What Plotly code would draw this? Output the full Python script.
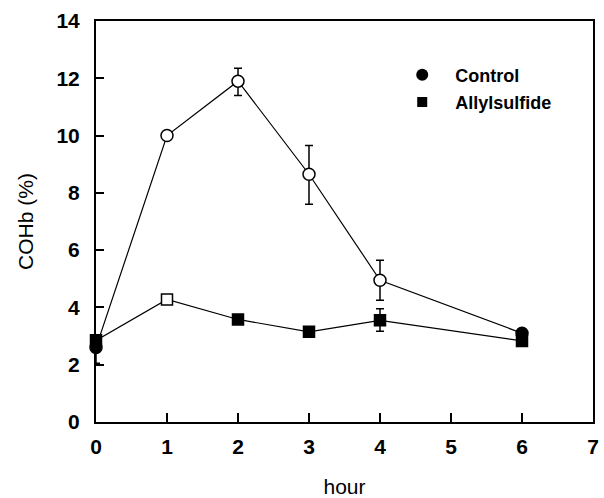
import plotly.graph_objects as go

hours = [0, 1, 2, 3, 4, 6]
control = [2.6, 10.0, 11.9, 8.65, 4.95, 3.1]
control_err_plus = [0.3, 0.0, 0.45, 1.0, 0.7, 0.0]
control_err_minus = [0.55, 0.0, 0.5, 1.05, 0.7, 0.0]
control_open = [False, True, True, True, True, False]

allyl = [2.85, 4.28, 3.58, 3.15, 3.55, 2.83]
allyl_err_plus = [0.15, 0.1, 0.0, 0.0, 0.4, 0.0]
allyl_err_minus = [0.15, 0.1, 0.0, 0.0, 0.38, 0.0]
allyl_open = [False, True, False, False, False, False]

FONT = "Liberation Sans, Arial, sans-serif"

def fills(open_flags):
    return ["white" if o else "black" for o in open_flags]

fig = go.Figure()

fig.add_trace(go.Scatter(
    x=hours, y=allyl, mode="lines+markers", showlegend=False,
    line=dict(color="black", width=1.2),
    marker=dict(symbol="square", size=11, color=fills(allyl_open),
                line=dict(color="black", width=1.5)),
    error_y=dict(type="data", array=allyl_err_plus, arrayminus=allyl_err_minus,
                 color="black", thickness=1.5, width=4),
    cliponaxis=False,
))
fig.add_trace(go.Scatter(
    x=hours, y=control, mode="lines+markers", showlegend=False,
    line=dict(color="black", width=1.2),
    marker=dict(symbol="circle", size=12, color=fills(control_open),
                line=dict(color="black", width=1.5)),
    error_y=dict(type="data", array=control_err_plus, arrayminus=control_err_minus,
                 color="black", thickness=1.5, width=4),
    cliponaxis=False,
))

# legend entries
fig.add_trace(go.Scatter(x=[None], y=[None], mode="markers", name="Control",
                         legendgroup="a",
                         marker=dict(symbol="circle", size=12, color="black")))
fig.add_trace(go.Scatter(x=[None], y=[None], mode="markers", name="Allylsulfide",
                         legendgroup="b",
                         marker=dict(symbol="square", size=10, color="black")))

fig.update_layout(
    width=604, height=498,
    margin=dict(l=96, r=11, t=21, b=76),
    paper_bgcolor="white", plot_bgcolor="white",
    font=dict(family=FONT, color="black"),
    legend=dict(x=0.590, y=0.9115, xanchor="left", yanchor="top",
                bgcolor="rgba(0,0,0,0)", tracegroupgap=1, itemwidth=56,
                font=dict(size=18, family=FONT, weight="bold")),
    xaxis=dict(range=[0, 7], tickvals=[0, 1, 2, 3, 4, 5, 6, 7],
               ticks="inside", ticklen=9, tickwidth=1.5, tickcolor="black",
               showline=True, linewidth=2, linecolor="black", mirror=True,
               showgrid=False, zeroline=False, automargin=False,
               tickfont=dict(size=21, family=FONT, weight="bold"),
               ticklabelstandoff=5,
               title=dict(text="hour", font=dict(size=21, family=FONT), standoff=32)),
    yaxis=dict(range=[0, 14], tickvals=[0, 2, 4, 6, 8, 10, 12, 14],
               ticks="inside", ticklen=8, tickwidth=1.5, tickcolor="black",
               showline=True, linewidth=2, linecolor="black", mirror=True,
               showgrid=False, zeroline=False, automargin=False,
               tickfont=dict(size=21, family=FONT, weight="bold"),
               ticklabelstandoff=10,
               title=dict(text="COHb (%)", font=dict(size=21, family=FONT), standoff=17)),
)

fig.write_html("out.html")
